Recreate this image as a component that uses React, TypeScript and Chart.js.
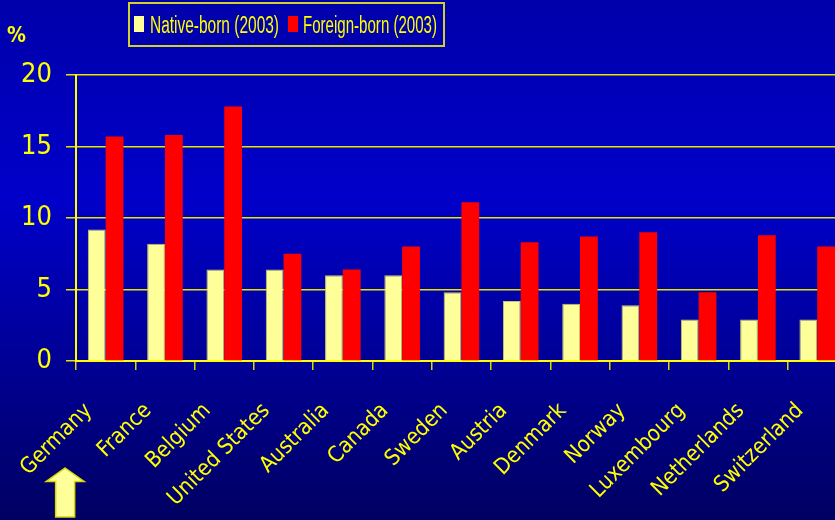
import React, { useEffect, useRef } from "react";
import { Chart, registerables } from "chart.js";

Chart.register(...registerables);

const categories = [
  "Germany", "France", "Belgium", "United States", "Australia", "Canada", "Sweden",
  "Austria", "Denmark", "Norway", "Luxembourg", "Netherlands", "Switzerland",
];
const nativeBorn = [9.2, 8.2, 6.4, 6.4, 6.0, 6.0, 4.8, 4.2, 4.0, 3.9, 2.9, 2.9, 2.9];
const foreignBorn = [15.7, 15.8, 17.8, 7.5, 6.4, 8.0, 11.1, 8.3, 8.7, 9.0, 4.8, 8.8, 8.0];
const seriesLabels = ["Native-born (2003)", "Foreign-born (2003)"];
const yMin = 0;
const yMax = 20;
const yStep = 5;
const unitLabel = "%";

const YELLOW = "#ffff00";
const NATIVE = "#ffff99";
const FOREIGN = "#ff0000";
const FONT = "'DejaVu Sans Condensed', 'DejaVu Sans', sans-serif";

const backgroundPlugin = {
  id: "bg",
  beforeDraw(chart: any) {
    const { ctx, width, height } = chart;
    const g = ctx.createLinearGradient(0, 0, 0, height);
    g.addColorStop(0, "#0000aa");
    g.addColorStop(0.38, "#0000ca");
    g.addColorStop(1, "#000062");
    ctx.save();
    ctx.fillStyle = g;
    ctx.fillRect(0, 0, width, height);
    ctx.restore();
  },
};

const decorPlugin = {
  id: "decor",
  afterDraw(chart: any) {
    const { ctx } = chart;
    ctx.save();
    // Legend box
    ctx.strokeStyle = "#d0d030";
    ctx.lineWidth = 2;
    ctx.strokeRect(129, 3, 315, 43);
    const items = [
      { label: seriesLabels[0], color: NATIVE, x: 134, tx: 150, w: 129 },
      { label: seriesLabels[1], color: FOREIGN, x: 288, tx: 303, w: 134 },
    ];
    ctx.font = "23px 'Liberation Sans Narrow', 'Liberation Sans', sans-serif";
    ctx.textBaseline = "alphabetic";
    ctx.textAlign = "left";
    for (const it of items) {
      ctx.fillStyle = it.color;
      ctx.fillRect(it.x, 16, 10, 16);
      ctx.fillStyle = YELLOW;
      const m = ctx.measureText(it.label).width;
      ctx.save();
      ctx.translate(it.tx, 33);
      ctx.scale(it.w / m, 1);
      ctx.fillText(it.label, 0, 0);
      ctx.restore();
    }
    // Unit label
    ctx.fillStyle = YELLOW;
    ctx.font = `bold 21px ${FONT}`;
    ctx.fillText(unitLabel, 7, 42);
    // Arrow under first category
    const xs = chart.scales.x;
    const cx = xs.getPixelForValue(0) - 40.5;
    ctx.beginPath();
    ctx.moveTo(cx, 468);
    ctx.lineTo(cx + 19, 481.5);
    ctx.lineTo(cx + 9.5, 481.5);
    ctx.lineTo(cx + 9.5, 517);
    ctx.lineTo(cx - 9.5, 517);
    ctx.lineTo(cx - 9.5, 481.5);
    ctx.lineTo(cx - 19, 481.5);
    ctx.closePath();
    ctx.fillStyle = NATIVE;
    ctx.fill();
    ctx.strokeStyle = "#d8d800";
    ctx.lineWidth = 1.5;
    ctx.stroke();
    ctx.restore();
  },
};

export default function App() {
  const ref = useRef<HTMLCanvasElement>(null);
  useEffect(() => {
    document.body.style.margin = "0";
    const chart = new Chart(ref.current as HTMLCanvasElement, {
      type: "bar",
      data: {
        labels: categories,
        datasets: [
          {
            label: seriesLabels[0],
            data: nativeBorn,
            backgroundColor: NATIVE,
            borderColor: "#c8c860",
            borderWidth: 1,
            barPercentage: 1,
            categoryPercentage: 0.6,
          },
          {
            label: seriesLabels[1],
            data: foreignBorn,
            backgroundColor: FOREIGN,
            borderWidth: 0,
            barPercentage: 1,
            categoryPercentage: 0.6,
          },
        ],
      },
      options: {
        animation: false,
        responsive: false,
        maintainAspectRatio: false,
        layout: { padding: { top: 75, right: 3, left: 0, bottom: 0 } },
        plugins: { legend: { display: false }, tooltip: { enabled: false } },
        scales: {
          x: {
            offset: true,
            grid: {
              display: true,
              drawOnChartArea: false,
              offset: true,
              tickLength: 9,
              color: "#d8d800",
              lineWidth: 1.5,
            },
            border: { display: true, color: YELLOW, width: 2 },
            ticks: {
              color: YELLOW,
              font: { family: FONT, size: 22 },
              minRotation: 45,
              maxRotation: 45,
              autoSkip: false,
              padding: 28,
              labelOffset: -17,
            },
            afterFit: (s: any) => {
              s.height = 159;
            },
          },
          y: {
            min: yMin,
            max: yMax,
            ticks: {
              stepSize: yStep,
              color: YELLOW,
              font: { family: FONT, size: 27 },
              padding: 14,
            },
            grid: { color: "#e6e600", lineWidth: 1.5, tickLength: 10 },
            border: { display: true, color: YELLOW, width: 2 },
            afterFit: (s: any) => {
              s.width = 76;
            },
          },
        },
      },
      plugins: [backgroundPlugin, decorPlugin],
    } as any);
    return () => chart.destroy();
  }, []);
  return (
    <div style={{ position: "fixed", left: 0, top: 0, width: 835, height: 520, overflow: "hidden" }}>
      <canvas ref={ref} width={864} height={520} style={{ display: "block", width: 864, height: 520 }} />
    </div>
  );
}
